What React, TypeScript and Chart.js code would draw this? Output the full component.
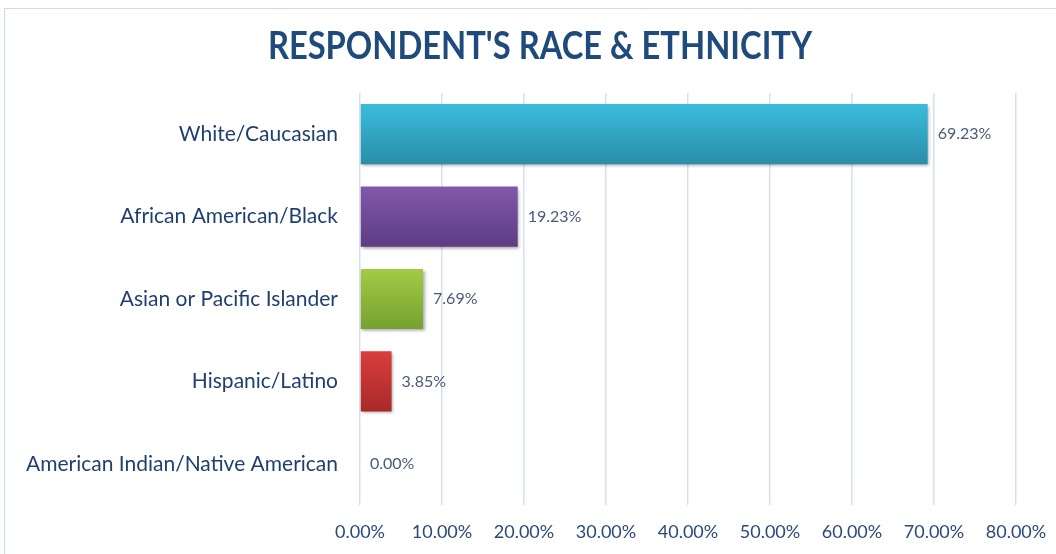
import React, { useEffect, useRef } from "react";
import { Chart, registerables } from "chart.js";

Chart.register(...registerables);

const categories = [
  "White/Caucasian",
  "African American/Black",
  "Asian or Pacific Islander",
  "Hispanic/Latino",
  "American Indian/Native American",
];
const values = [69.23, 19.23, 7.69, 3.85, 0.0];
const topColors = ["#3bbbdc", "#8257ab", "#a2cb45", "#d93e3b"];
const bottomColors = ["#2a8ea9", "#5d3d83", "#76a12f", "#a9292a"];
const xTickMax = 80;
const xTickStep = 10;
const title = "RESPONDENT'S RACE & ETHNICITY";

const FONT = "Lato, 'Open Sans', sans-serif";

export default function App() {
  const ref = useRef<HTMLCanvasElement | null>(null);

  useEffect(() => {
    if (!ref.current) return;
    const decoPlugin = {
      id: "barDeco",
      beforeDatasetsDraw(chart: any) {
        const ctx = chart.ctx;
        ctx.save();
        ctx.shadowColor = "rgba(0,0,0,0.35)";
        ctx.shadowBlur = 3;
        ctx.shadowOffsetX = 1.5;
        ctx.shadowOffsetY = 2;
      },
      afterDatasetsDraw(chart: any) {
        const ctx = chart.ctx;
        ctx.restore();
        const meta = chart.getDatasetMeta(0);
        ctx.save();
        ctx.font = `16px ${FONT}`;
        ctx.fillStyle = "#4a5a78";
        ctx.textBaseline = "middle";
        ctx.textAlign = "left";
        meta.data.forEach((el: any, i: number) => {
          ctx.fillText(values[i].toFixed(2) + "%", el.x + 10, el.y);
        });
        ctx.restore();
      },
      afterDraw(chart: any) {
        const ctx = chart.ctx;
        ctx.save();
        ctx.translate(540, 47);
        ctx.scale(0.86, 1);
        ctx.font = `bold 38px ${FONT}`;
        ctx.fillStyle = "#1f4a7c";
        ctx.textAlign = "center";
        ctx.textBaseline = "middle";
        ctx.fillText(title, 0, 0);
        ctx.restore();
      },
    };

    const chart = new Chart(ref.current, {
      type: "bar",
      data: {
        labels: categories,
        datasets: [
          {
            data: values,
            backgroundColor: (c: any) => {
              const ch = c.chart;
              const i = c.dataIndex ?? 0;
              const ys = ch.scales && ch.scales.y;
              if (!ys || !ch.chartArea) return topColors[i % 4];
              const cy = ys.getPixelForValue(i);
              const g = ch.ctx.createLinearGradient(0, cy - 30, 0, cy + 30);
              g.addColorStop(0, topColors[i % 4]);
              g.addColorStop(1, bottomColors[i % 4]);
              return g;
            },
            borderWidth: 0,
            barPercentage: 0.73,
            categoryPercentage: 1,
          },
        ],
      },
      options: {
        indexAxis: "y",
        animation: false,
        responsive: true,
        maintainAspectRatio: false,
        layout: { padding: { left: 0, right: 40, top: 93, bottom: 0 } },
        plugins: {
          legend: { display: false },
          tooltip: { enabled: false },
          title: { display: false },
        },
        scales: {
          x: {
            min: 0,
            max: xTickMax,
            grid: { color: "#d6e1f0", drawTicks: false, lineWidth: 1.5 },
            border: { display: false },
            ticks: {
              stepSize: xTickStep,
              padding: 16,
              color: "#2b4a78",
              font: { family: FONT, size: 18 },
              callback: (v: any) => Number(v).toFixed(2) + "%",
            },
            afterFit: (s: any) => {
              s.height = 49;
              s.paddingLeft = 0;
              s.paddingRight = 0;
            },
          },
          y: {
            grid: { display: false, drawTicks: false },
            border: { display: false },
            ticks: {
              padding: 22,
              color: "#1f3f6e",
              font: { family: FONT, size: 21 },
            },
            afterFit: (s: any) => {
              s.width = 360;
              s.paddingTop = 0;
              s.paddingBottom = 0;
            },
          },
        },
      },
      plugins: [decoPlugin],
    } as any);
    return () => chart.destroy();
  }, []);

  return (
    <div style={{ position: "fixed", left: 0, top: 0, width: 1056, height: 554, background: "#fff" }}>
      <div
        style={{
          position: "absolute",
          left: 4,
          top: 8,
          width: 1070,
          height: 600,
          border: "1px solid #c9dbf0",
          boxSizing: "border-box",
        }}
      />
      <canvas ref={ref} style={{ position: "absolute", left: 0, top: 0 }} />
    </div>
  );
}
